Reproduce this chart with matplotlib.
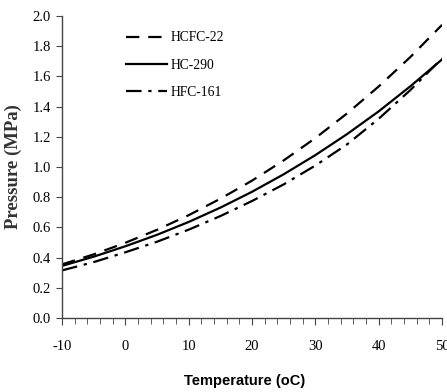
import matplotlib
matplotlib.use('Agg')
import matplotlib.pyplot as plt
import numpy as np
from matplotlib.ticker import MultipleLocator

plt.rcParams['axes.unicode_minus'] = False

# saturation pressure (MPa) vs temperature (oC)
temperature = [-10, -5, 0, 5, 10, 15, 20, 25, 30, 35, 40, 45, 50]
hcfc22 = [0.355, 0.421, 0.498, 0.584, 0.681, 0.790, 0.910, 1.044, 1.192, 1.355, 1.534, 1.729, 1.942]
hc290 = [0.345, 0.406, 0.475, 0.551, 0.636, 0.731, 0.836, 0.952, 1.079, 1.218, 1.369, 1.535, 1.713]
hfc161 = [0.315, 0.370, 0.435, 0.505, 0.585, 0.675, 0.775, 0.885, 1.010, 1.150, 1.320, 1.510, 1.720]

serif = 'Liberation Serif'

fig = plt.figure(figsize=(4.47, 3.92), dpi=100)
ax = fig.add_axes([0.139, 0.189, 0.85, 0.77])

ax.plot(temperature, hcfc22, color='black', lw=1.6, dashes=(6, 4), label='HCFC-22')
ax.plot(temperature, hc290, color='black', lw=1.6, label='HC-290')
ax.plot(temperature, hfc161, color='black', lw=1.6, dashes=(7, 3, 1.5, 3), label='HFC-161')

ax.set_xlim(-10, 50)
ax.set_ylim(0, 2.0)
ax.xaxis.set_major_locator(MultipleLocator(10))
ax.xaxis.set_minor_locator(MultipleLocator(2))
ax.yaxis.set_major_locator(MultipleLocator(0.2))
ax.yaxis.set_major_formatter(matplotlib.ticker.FormatStrFormatter('%.1f'))

ax.spines['right'].set_visible(False)
ax.spines['top'].set_visible(False)
for s in ['left', 'bottom']:
    ax.spines[s].set_linewidth(1.0)
    ax.spines[s].set_color('#444444')

ax.tick_params(axis='both', which='both', direction='out', color='#444444')
ax.tick_params(axis='x', which='major', length=5, pad=11)
ax.tick_params(axis='x', which='minor', length=4)
ax.tick_params(axis='y', length=4, pad=4)
for lbl in ax.get_xticklabels() + ax.get_yticklabels():
    lbl.set_fontfamily(serif)
    lbl.set_fontsize(10.5)

ax.set_ylabel('Pressure (MPa)', fontfamily=serif, fontweight='bold', fontsize=13.5,
              labelpad=8, color='#333333')
ax.set_xlabel('Temperature (oC)', fontfamily=['Liberation Sans Narrow', 'Liberation Sans'],
              fontweight='bold', fontsize=10.5, labelpad=12)
ax.xaxis.set_label_coords(0.48, -0.185)

leg = ax.legend(loc='upper left', bbox_to_anchor=(0.135, 0.99), frameon=False,
                prop={'family': serif, 'size': 9.8}, handlelength=3.0,
                handletextpad=0.3, labelspacing=1.05)

fig.savefig('out.png', dpi=100)
